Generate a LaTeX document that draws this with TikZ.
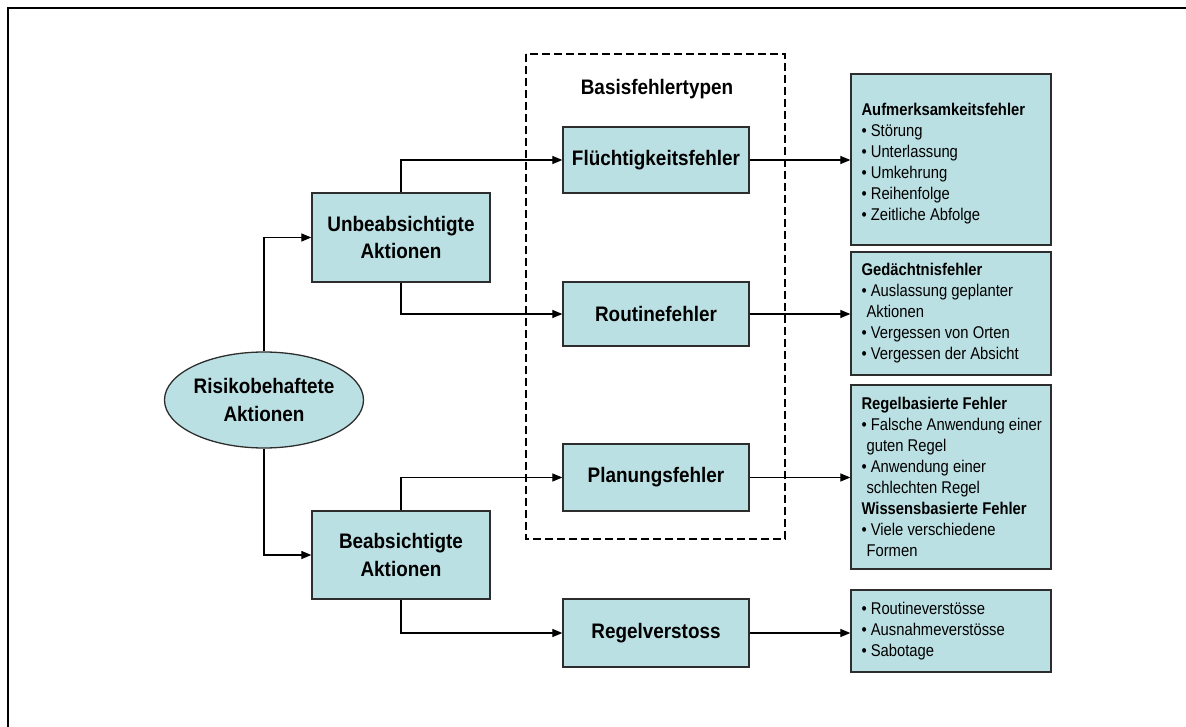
\documentclass[tikz,border=0pt]{standalone}
\usepackage{fontspec}
\setmainfont{Liberation Sans}
\newfontfamily\mainnarrow[FakeStretch=0.9]{Liberation Sans}
\newfontfamily\smallnarrow[FakeStretch=0.87]{Liberation Sans}
\usetikzlibrary{arrows.meta,shapes.geometric}
\definecolor{boxfill}{RGB}{187,224,227}
\definecolor{boxline}{RGB}{45,45,45}
\begin{document}
\begin{tikzpicture}[x=1pt,y=-1pt,
  mbox/.style={draw=boxline, line width=1.3pt, fill=boxfill, inner sep=0pt,
    align=center, font=\mainnarrow\fontsize{21}{27.5}\selectfont\bfseries},
  rbox/.style={draw=boxline, line width=1.3pt, fill=boxfill, inner sep=0pt, minimum width=200pt},
  rtext/.style={inner sep=0pt, align=left, anchor=west, font=\smallnarrow\fontsize{17}{21}\selectfont},
  arr/.style={line width=1.2pt, -{Triangle[length=10pt,width=8pt]}},
  group/.style={draw=black, line width=1.8pt, dash pattern=on 8pt off 4pt}]
\useasboundingbox (0,0) rectangle (1186,727);
\draw[line width=2.2pt] (8,727) -- (8,8) -- (1186,8);
% dashed group
\draw[group] (526,54) rectangle (785,539);
\node[inner sep=0pt, font=\mainnarrow\fontsize{21}{23}\selectfont\bfseries] (title) at (657,89) {Basisfehlertypen};
% main nodes
\node[mbox, ellipse, minimum width=196pt, minimum height=96pt] (E) at (264,400) {Risikobehaftete\\Aktionen};
\node[mbox, minimum width=178pt, minimum height=89pt] (U) at (401,237.5) {Unbeabsichtigte\\Aktionen};
\node[mbox, minimum width=178pt, minimum height=88pt] (B) at (401,555) {Beabsichtigte\\Aktionen};
\node[mbox, minimum width=186pt, minimum height=66pt] (F) at (656,160) {Flüchtigkeitsfehler};
\node[mbox, minimum width=186pt, minimum height=64pt] (R) at (656,314) {Routinefehler};
\node[mbox, minimum width=186pt, minimum height=67pt] (P) at (656,477.5) {Planungsfehler};
\node[mbox, minimum width=186pt, minimum height=68pt] (V) at (656,633) {Regelverstoss};
% right boxes
\node[rbox, minimum height=171pt] (r1) at (951,159.5) {};
\node[rbox, minimum height=123pt] (r2) at (951,313.5) {};
\node[rbox, minimum height=184pt] (r3) at (951,477) {};
\node[rbox, minimum height=82pt] (r4) at (951,631) {};
\node[rtext] (t1) at ([xshift=11pt,yshift=-4pt]r1.west) {\textbf{Aufmerksamkeitsfehler}\\• Störung\\• Unterlassung\\• Umkehrung\\• Reihenfolge\\• Zeitliche Abfolge};
\node[rtext] (t2) at ([xshift=11pt]r2.west) {\textbf{Gedächtnisfehler}\\• Auslassung geplanter\\\hspace*{5pt}Aktionen\\• Vergessen von Orten\\• Vergessen der Absicht};
\node[rtext] (t3) at ([xshift=11pt]r3.west) {\textbf{Regelbasierte Fehler}\\• Falsche Anwendung einer\\\hspace*{5pt}guten Regel\\• Anwendung einer\\\hspace*{5pt}schlechten Regel\\\textbf{Wissensbasierte Fehler}\\• Viele verschiedene\\\hspace*{5pt}Formen};
\node[rtext] (t4) at ([xshift=11pt]r4.west) {• Routineverstösse\\• Ausnahmeverstösse\\• Sabotage};
% connectors
\draw[arr] (E.north) |- (U.west);
\draw[arr] (E.south) |- (B.west);
\draw[arr] (U.north) |- (F.west);
\draw[arr] (U.south) |- (R.west);
\draw[arr] (B.north) |- (P.west);
\draw[arr] (B.south) |- (V.west);
\draw[arr] (F.east) -- (F.east -| r1.west);
\draw[arr] (R.east) -- (R.east -| r2.west);
\draw[arr] (P.east) -- (P.east -| r3.west);
\draw[arr] (V.east) -- (V.east -| r4.west);
\end{tikzpicture}
\end{document}
